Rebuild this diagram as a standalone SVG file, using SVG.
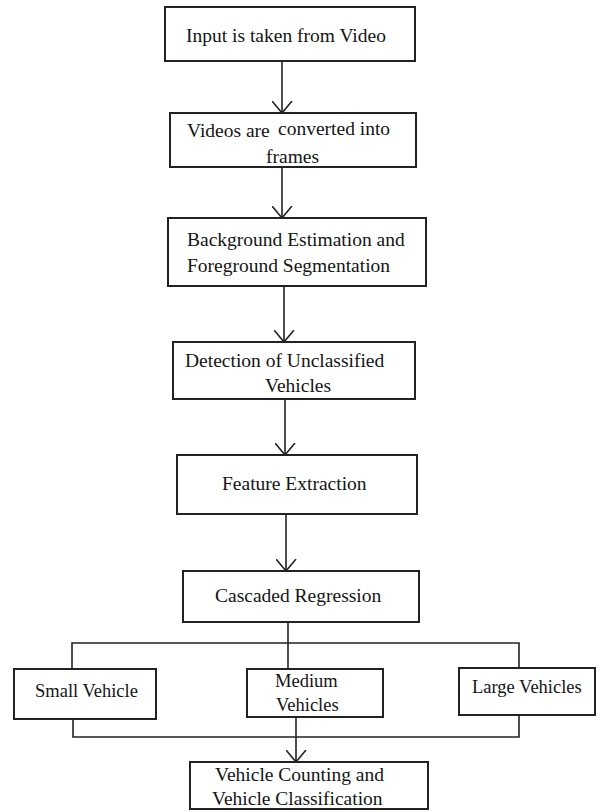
<svg xmlns="http://www.w3.org/2000/svg" width="600" height="812" viewBox="0 0 600 812">
<style>
.box{fill:#fff;stroke:#222;stroke-width:2}
.t{font-family:'Liberation Serif','DejaVu Serif',serif;font-size:19.5px;fill:#151515}
.s{font-size:18.5px}
.c{fill:none;stroke:#222;stroke-width:1.6}
</style>
<defs>
<marker id="v" markerUnits="userSpaceOnUse" markerWidth="24" markerHeight="24" refX="12" refY="14" orient="auto" viewBox="0 0 24 24">
<polyline points="2,2 12,14 22,2" fill="none" stroke="#222" stroke-width="1.6" transform="rotate(-90 12 14)"/>
</marker>
</defs>
<rect width="600" height="812" fill="#fff"/>
<g id="connectors">
<line class="c" x1="282" y1="61" x2="282" y2="113" marker-end="url(#v)"/>
<line class="c" x1="282" y1="167" x2="282" y2="218" marker-end="url(#v)"/>
<line class="c" x1="284" y1="286" x2="284" y2="342" marker-end="url(#v)"/>
<line class="c" x1="285" y1="399" x2="285" y2="455" marker-end="url(#v)"/>
<line class="c" x1="286" y1="514" x2="286" y2="571" marker-end="url(#v)"/>
<line class="c" x1="288" y1="622" x2="288" y2="669"/>
<polyline class="c" points="72,669 72,643 519,643 519,668"/>
<polyline class="c" points="73,719 73,737 519,737 519,715"/>
<line class="c" x1="296" y1="717" x2="296" y2="762" marker-end="url(#v)"/>
</g>
<g font-family="Liberation Serif, DejaVu Serif, serif">
<g id="n1"><rect class="box" x="165" y="7" width="250" height="54"/><text class="t" x="186" y="42">Input is taken from Video</text></g>
<g id="n2"><rect class="box" x="170" y="113" width="246" height="54"/><text class="t" x="187" y="137">Videos are</text><text class="t" x="278" y="135">converted into</text><text class="t" x="266" y="163">frames</text></g>
<g id="n3"><rect class="box" x="168" y="218" width="258" height="68"/><text class="t" x="187" y="246">Background Estimation and</text><text class="t" x="187" y="272">Foreground Segmentation</text></g>
<g id="n4"><rect class="box" x="173" y="342" width="242" height="57"/><text class="t" x="185" y="367">Detection of Unclassified</text><text class="t" x="265" y="392">Vehicles</text></g>
<g id="n5"><rect class="box" x="177" y="455" width="240" height="59"/><text class="t" x="222" y="490">Feature Extraction</text></g>
<g id="n6"><rect class="box" x="183" y="571" width="236" height="51"/><text class="t" x="215" y="602">Cascaded Regression</text></g>
<g id="n7"><rect class="box" x="14" y="669" width="142" height="50"/><text class="t s" x="35" y="697">Small Vehicle</text></g>
<g id="n8"><rect class="box" x="247" y="669" width="136" height="48"/><text class="t s" x="275" y="687">Medium</text><text class="t s" x="276" y="711">Vehicles</text></g>
<g id="n9"><rect class="box" x="459" y="668" width="136" height="47"/><text class="t s" x="472" y="693">Large Vehicles</text></g>
<g id="n10"><rect class="box" x="190" y="762" width="238" height="47"/><text class="t" x="215" y="781">Vehicle Counting and</text><text class="t" x="212" y="805">Vehicle Classification</text></g>
</g>
</svg>
